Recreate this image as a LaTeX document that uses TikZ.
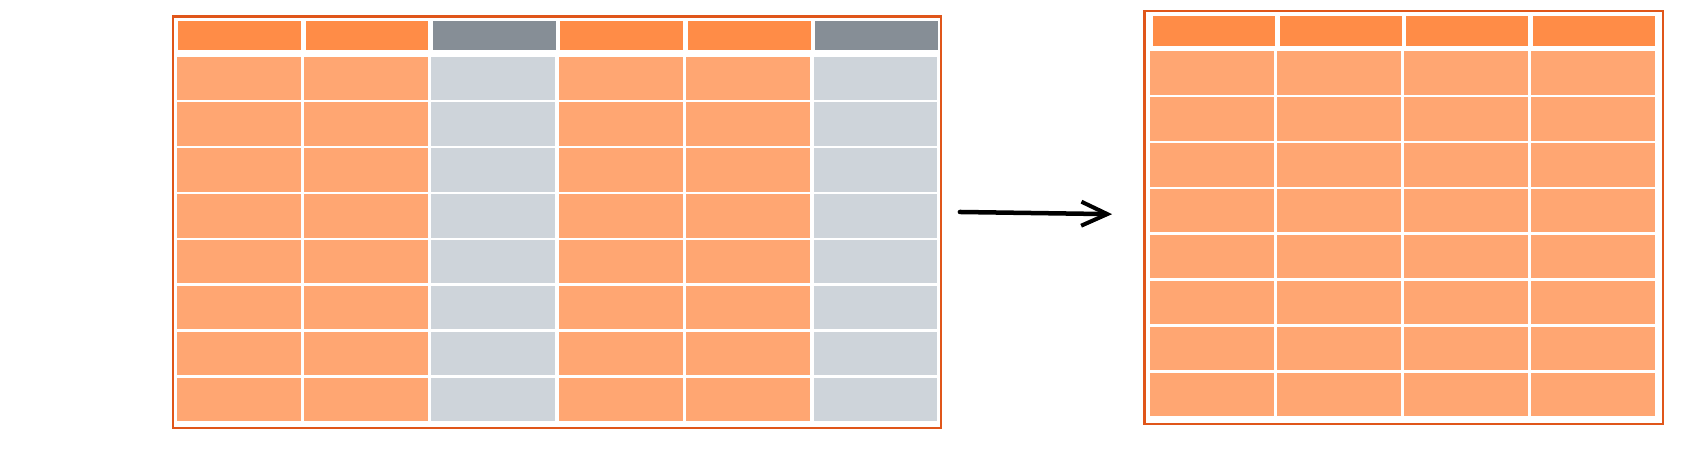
\documentclass[tikz,border=0pt]{standalone}
\usetikzlibrary{arrows.meta}
\definecolor{hdrOr}{HTML}{FF8C47}
\definecolor{bodyOr}{HTML}{FFA672}
\definecolor{hdrGr}{HTML}{868E96}
\definecolor{bodyGr}{HTML}{CED4DA}
\definecolor{frameOr}{HTML}{E0561A}
\tikzset{
  cell/.style={draw=none, inner sep=0pt, outer sep=0pt, anchor=north west, minimum height=#1},
  frame/.style={draw=frameOr, line width=2.2pt, inner sep=0pt, anchor=north west},
  flowarrow/.style={draw=black, line width=4.5pt, line cap=round, -{Straight Barb[length=26pt,width=24pt,line width=4pt]}},
}
\begin{document}
\begin{tikzpicture}[x=1pt,y=-1pt,scale=1.0868,transform shape]
\useasboundingbox[fill=white] (0,0) rectangle (1566,422.35);
% left table frame
\node[frame, minimum width=707pt, minimum height=379pt] (lt) at (158,14) {};
% right table frame
\node[frame, minimum width=477pt, minimum height=380pt] (rt) at (1052,9) {};
% left table cells
\foreach \i/\hc/\bc in {0/hdrOr/bodyOr,1/hdrOr/bodyOr,2/hdrGr/bodyGr,3/hdrOr/bodyOr,4/hdrOr/bodyOr,5/hdrGr/bodyGr}{
  \node[cell=27pt, minimum width=113pt, fill=\hc] (lh\i) at ({164+\i*117.2},19) {};
  \foreach \j in {0,...,7}{
    \node[cell=40pt, minimum width=114pt, fill=\bc] (lc\i\j) at ({162.5+\i*117.2},{52+\j*42.2}) {};
  }
}
% right table cells
\foreach \i in {0,1,2,3}{
  \node[cell=27pt, minimum width=112pt, fill=hdrOr] (rh\i) at ({1061+\i*116.5},15) {};
  \foreach \j in {0,...,7}{
    \node[cell=40pt, minimum width=114pt, fill=bodyOr] (rc\i\j) at ({1058+\i*116.8},{47+\j*42.3}) {};
  }
}
% arrow
\coordinate (a1) at (883,195);
\coordinate (a2) at (1023,197);
\draw[flowarrow] (a1) -- (a2);
\end{tikzpicture}
\end{document}
